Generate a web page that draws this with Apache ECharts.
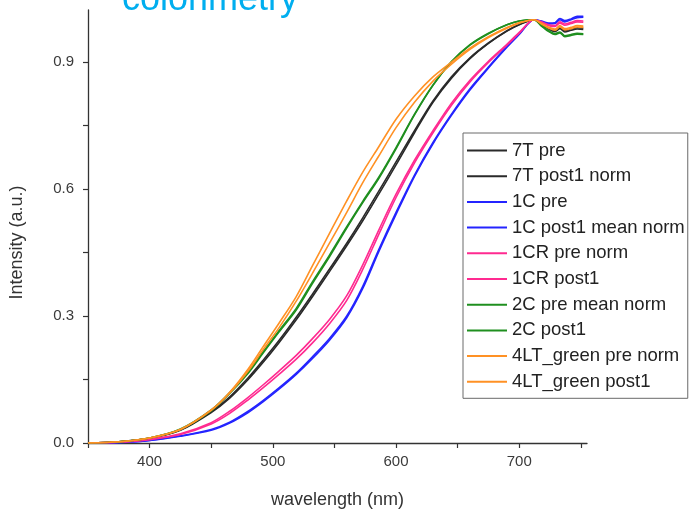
<!DOCTYPE html>
<html>
<head>
<meta charset="utf-8">
<script src="https://cdn.jsdelivr.net/npm/echarts@6/dist/echarts.min.js"></script>
<style>
  html, body { margin: 0; padding: 0; background: #fff; }
  #chart { width: 691px; height: 519px; }
</style>
</head>
<body>
<div id="chart"></div>
<script>
// Normalised reflectance spectra, before and after exposure
const wavelength = [350, 375, 400, 425, 450, 465, 480, 492, 505, 519, 532, 546, 560, 573, 586, 600,
  615, 630, 645, 660, 675, 690, 700, 712, 718, 724, 729, 733, 737, 742, 747, 752];

const t7Pre = [0, .003, .011, .030, .072, .106, .150, .190, .237, .291, .345, .405, .466, .525, .588, .657,
  .733, .805, .862, .908, .944, .973, .988, 1.000, .990, .980, .975, .982, .974, .978, .981, .980];
const t7Post1 = [0, .003, .011, .031, .074, .109, .154, .195, .242, .297, .351, .411, .472, .532, .595, .664,
  .738, .808, .865, .910, .945, .974, .989, 1.000, .989, .978, .972, .979, .971, .975, .978, .977];
const c1Pre = [0, .001, .006, .016, .030, .047, .072, .097, .127, .162, .199, .243, .296, .365, .452, .540,
  .630, .707, .774, .834, .886, .935, .965, 1.000, .997, .992, .993, 1.003, .998, 1.002, 1.008, 1.008];
const c1Post1 = [0, .001, .006, .017, .032, .049, .075, .100, .130, .165, .203, .247, .300, .370, .457, .545,
  .633, .710, .777, .837, .888, .937, .967, 1.000, .996, .990, .991, 1.000, .995, 1.000, 1.005, 1.006];
const cr1Pre = [0, .002, .008, .020, .045, .070, .102, .130, .162, .198, .236, .282, .337, .410, .493, .580,
  .662, .733, .798, .853, .899, .940, .968, 1.000, .995, .988, .986, .995, .990, .994, .998, .997];
const cr1Post1 = [0, .002, .009, .022, .048, .075, .108, .137, .170, .207, .246, .292, .348, .421, .503, .588,
  .668, .738, .803, .857, .902, .942, .970, 1.000, .994, .986, .984, .992, .987, .991, .995, .994];
const c2Pre = [0, .003, .012, .032, .076, .117, .165, .212, .262, .314, .376, .440, .508, .568, .625, .695,
  .775, .845, .900, .940, .967, .988, .997, 1.000, .985, .972, .965, .969, .960, .963, .966, .965];
const c2Post1 = [0, .003, .012, .033, .078, .119, .168, .215, .265, .318, .380, .444, .511, .571, .628, .698,
  .777, .846, .901, .941, .968, .988, .997, 1.000, .986, .974, .967, .971, .962, .965, .968, .967];
const lt4Pre = [0, .003, .012, .032, .078, .120, .175, .227, .283, .346, .418, .495, .572, .640, .700, .765,
  .820, .865, .900, .933, .960, .982, .993, 1.000, .992, .982, .978, .986, .979, .982, .986, .985];
const lt4Post1 = [0, .003, .012, .032, .077, .118, .170, .220, .272, .335, .400, .472, .545, .615, .678, .745,
  .805, .855, .895, .930, .958, .980, .992, 1.000, .990, .980, .975, .983, .976, .979, .983, .982];

const seriesNames = ['7T pre', '7T post1 norm', '1C pre', '1C post1 mean norm', '1CR pre norm',
  '1CR post1', '2C pre mean norm', '2C post1', '4LT_green pre norm', '4LT_green post1'];
const seriesValues = [t7Pre, t7Post1, c1Pre, c1Post1, cr1Pre, cr1Post1, c2Pre, c2Post1, lt4Pre, lt4Post1];
const seriesColors = ['#2a2a2a', '#2a2a2a', '#2424ff', '#2424ff', '#ff2a90', '#ff2a90',
  '#1f8f1f', '#1f8f1f', '#ff9124', '#ff9124'];

const xTickValues = [350, 400, 450, 500, 550, 600, 650, 700, 750];
const xLabelValues = [400, 500, 600, 700];
const yTickValues = [0, 0.15, 0.3, 0.45, 0.6, 0.75, 0.9];
const yLabelValues = [0, 0.3, 0.6, 0.9];

const FONT = '"Liberation Sans", Arial, sans-serif';

const chart = echarts.init(document.getElementById('chart'), null, { renderer: 'canvas' });

const series = seriesNames.map((name, i) => ({
  name: name,
  type: 'line',
  symbol: 'none',
  smooth: 0.3,
  color: seriesColors[i],
  lineStyle: { width: 1.6, color: seriesColors[i] },
  data: wavelength.map((w, k) => [w, seriesValues[i][k]]),
  z: 2 + i
}));

chart.setOption({
  animation: false,
  backgroundColor: '#ffffff',
  graphic: [{
    type: 'text',
    x: 122,
    y: -18,
    style: { text: 'colorimetry', font: '36px ' + FONT, fill: '#00aeef' }
  }],
  grid: { left: 87, right: 104, top: 10, bottom: 76 },
  legend: {
    orient: 'vertical',
    left: 463,
    top: 133,
    padding: [8, 3, 7, 4],
    itemGap: 6.7,
    itemWidth: 40,
    itemHeight: 2,
    icon: 'rect',
    borderColor: '#6a6a6a',
    borderWidth: 1,
    data: seriesNames,
    textStyle: { fontFamily: FONT, fontSize: 18.5, color: '#222', lineHeight: 18 }
  },
  xAxis: {
    type: 'value',
    min: 350,
    max: 755,
    interval: 50,
    name: 'wavelength (nm)',
    nameLocation: 'middle',
    nameGap: 48,
    nameTextStyle: { fontFamily: FONT, fontSize: 18, color: '#333' },
    axisLine: { show: true, lineStyle: { color: '#333', width: 1.3 } },
    axisTick: { show: true, inside: false, length: 5, customValues: xTickValues, lineStyle: { color: '#333', width: 1.2 } },
    axisLabel: { show: true, margin: 11, customValues: xLabelValues, fontFamily: FONT, fontSize: 15, color: '#3a3a3a' },
    splitLine: { show: false }
  },
  yAxis: {
    type: 'value',
    min: 0,
    max: 1.023,
    interval: 0.15,
    name: 'Intensity (a.u.)',
    nameLocation: 'middle',
    nameGap: 62,
    nameRotate: 90,
    nameTextStyle: { fontFamily: FONT, fontSize: 18, color: '#333', padding: [0, 32, 0, 0] },
    axisLine: { show: true, lineStyle: { color: '#333', width: 1.3 } },
    axisTick: { show: true, inside: false, length: 5, customValues: yTickValues, lineStyle: { color: '#333', width: 1.2 } },
    axisLabel: {
      show: true, margin: 14, customValues: yLabelValues, fontFamily: FONT, fontSize: 15, color: '#3a3a3a',
      formatter: v => v.toFixed(1)
    },
    splitLine: { show: false }
  },
  series: series
});
</script>
</body>
</html>
